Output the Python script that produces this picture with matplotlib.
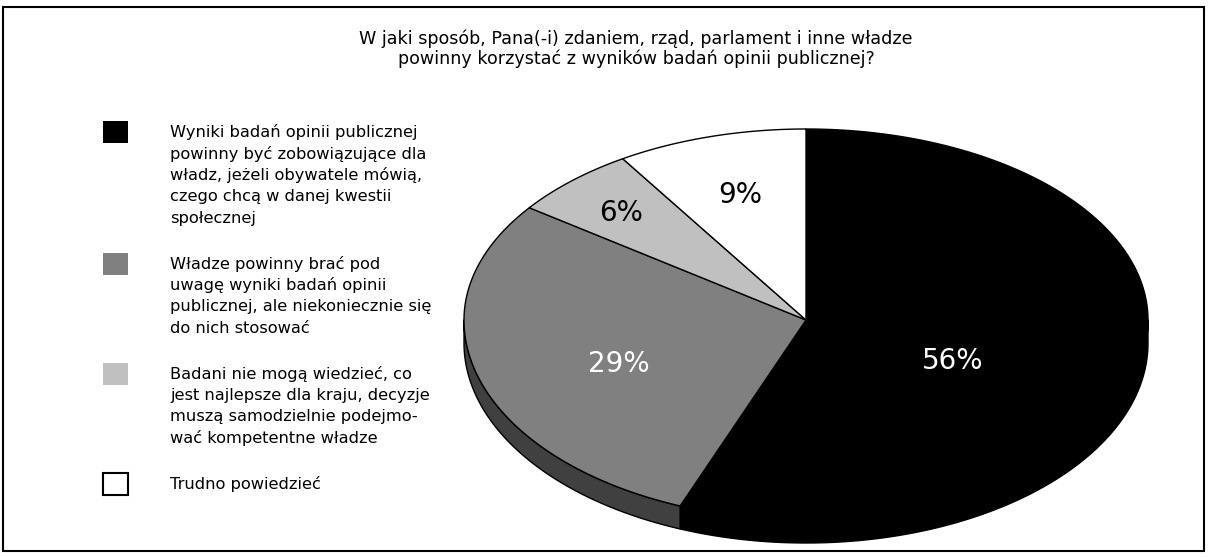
import numpy as np
import matplotlib
matplotlib.use("Agg")
import matplotlib.pyplot as plt
from matplotlib.patches import Polygon, Rectangle

# ---------------- data ----------------
values = [56, 29, 6, 9]
pct_labels = ["56%", "29%", "6%", "9%"]
legend_entries = [
    ["Wyniki badań opinii publicznej",
     "powinny być zobowiązujące dla",
     "władz, jeżeli obywatele mówią,",
     "czego chcą w danej kwestii",
     "społecznej"],
    ["Władze powinny brać pod",
     "uwagę wyniki badań opinii",
     "publicznej, ale niekoniecznie się",
     "do nich stosować"],
    ["Badani nie mogą wiedzieć, co",
     "jest najlepsze dla kraju, decyzje",
     "muszą samodzielnie podejmo-",
     "wać kompetentne władze"],
    ["Trudno powiedzieć"],
]
title_lines = ["W jaki sposób, Pana(-i) zdaniem, rząd, parlament i inne władze",
               "powinny korzystać z wyników badań opinii publicznej?"]

# ---------------- style ----------------
top_colors = ["#000000", "#808080", "#c0c0c0", "#ffffff"]
side_colors = ["#000000", "#404040", "#606060", "#808080"]
legend_edge = ["none", "none", "none", "black"]
label_colors = ["white", "white", "black", "black"]
label_frac = [(0.435, 1.10), (0.57, 0.79), (0.79, 0.77), (0.69, 0.68)]
FONT = "DejaVu Sans"

W, H = 1208, 557
fig = plt.figure(figsize=(W / 100, H / 100), dpi=100)
ax = fig.add_axes([0, 0, 1, 1])
ax.set_xlim(0, W)
ax.set_ylim(H, 0)
ax.axis("off")

# frame
ax.add_patch(Rectangle((3, 7), 1201, 544, fill=False, ec="black", lw=1.5, zorder=1))

# title
for i, line in enumerate(title_lines):
    ax.text(636, 44 + i * 19.5, line, ha="center", va="baseline",
            fontsize=12.6, family=FONT, color="black")

# pie geometry
cx, cy, rx, ry_top, ry_bot, depth = 806, 320, 342, 191, 200, 23


def ell(theta_deg):
    t = np.radians(theta_deg)
    s = np.sin(t)
    ry = np.where(s > 0, ry_top, ry_bot)
    return cx + rx * np.cos(t), cy - ry * s


total = float(sum(values))
cum = np.concatenate([[0], np.cumsum(values)])
starts = 90 - 360 * cum[:-1] / total
ends = 90 - 360 * cum[1:] / total

# sides (front half: angles -180..0)
for i in range(len(values)):
    a_hi, a_lo = starts[i], ends[i]
    for k in (-1, 0, 1):
        lo = max(a_lo + 360 * k, -180)
        hi = min(a_hi + 360 * k, 0)
        if hi > lo:
            th = np.linspace(lo, hi, 200)
            x, y = ell(th)
            xs = np.concatenate([x, x[::-1]])
            ys = np.concatenate([y, (y + depth)[::-1]])
            ax.add_patch(Polygon(np.column_stack([xs, ys]), closed=True,
                                 fc=side_colors[i], ec="black", lw=1.0,
                                 joinstyle="round", zorder=2))

# top faces
for i in range(len(values)):
    th = np.linspace(starts[i], ends[i], 400)
    x, y = ell(th)
    xs = np.concatenate([[cx], x])
    ys = np.concatenate([[cy], y])
    ax.add_patch(Polygon(np.column_stack([xs, ys]), closed=True,
                         fc=top_colors[i], ec="black", lw=1.0,
                         joinstyle="round", zorder=3))

# percentage labels
for i in range(len(values)):
    mid = (starts[i] + ends[i]) / 2
    t = np.radians(mid)
    s = np.sin(t)
    ry = ry_top if s > 0 else ry_bot
    fx, fy = label_frac[i]
    lx = cx + fx * rx * np.cos(t)
    ly = cy - fy * ry * s
    ax.text(lx, ly, pct_labels[i], ha="center", va="center",
            fontsize=20, family=FONT, color=label_colors[i], zorder=5)

# legend
line_h = 21.5
base = 137
for i, entry in enumerate(legend_entries):
    ax.add_patch(Rectangle((103, base - 16), 25, 22, fc=top_colors[i],
                           ec=legend_edge[i], lw=1.5, zorder=3))
    for j, line in enumerate(entry):
        ax.text(170, base + j * line_h, line, ha="left", va="baseline",
                fontsize=11.7, family=FONT, color="black")
    base += (len(entry) - 1) * line_h + 45.5

fig.savefig("out.png", dpi=100, facecolor="white")
